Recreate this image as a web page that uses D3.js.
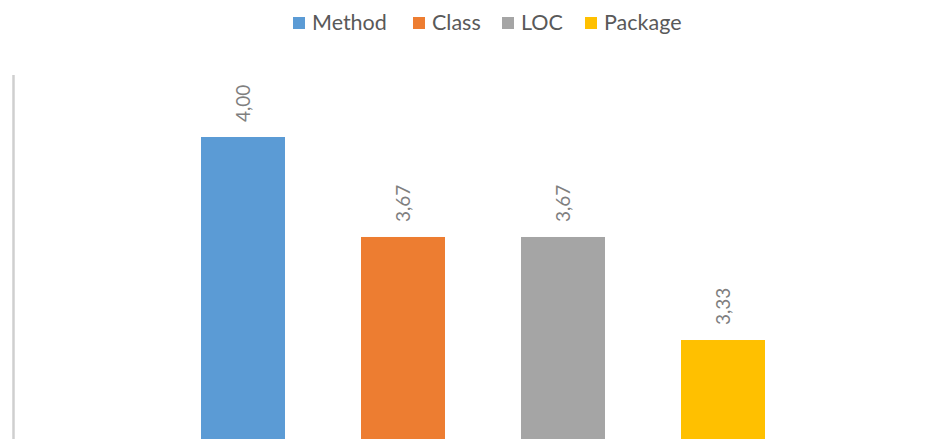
<!DOCTYPE html>
<html><head><meta charset="utf-8">
<script src="https://cdn.jsdelivr.net/npm/d3@7"></script>
<style>html,body{margin:0;padding:0;background:#fff;overflow:hidden}</style>
</head><body>
<svg id="c" width="946" height="439"></svg>
<script>
const categories = ["Method", "Class", "LOC", "Package"];
const values = [4.00, 3.67, 3.67, 3.33];
const labels = ["4,00", "3,67", "3,67", "3,33"];
const colors = ["#5B9BD5", "#ED7D31", "#A5A5A5", "#FFC000"];

const svg = d3.select("#c");
const font = "Lato, 'Open Sans', sans-serif";

const x = d3.scaleBand().domain(categories).range([163, 803]).paddingInner(0.475).paddingOuter(0.2375);
const y = d3.scaleLinear().domain([3, 4.2]).range([440, 76.4]);

// left axis line
svg.append("line").attr("x1", 13.5).attr("x2", 13.5).attr("y1", 75).attr("y2", 439)
  .attr("stroke", "#cfcfcf").attr("stroke-width", 2.5);

svg.selectAll("rect.bar").data(categories).enter().append("rect")
  .attr("class", "bar")
  .attr("x", d => x(d)).attr("width", x.bandwidth())
  .attr("y", (d, i) => y(values[i])).attr("height", (d, i) => y(3) - y(values[i]) + 5)
  .attr("fill", (d, i) => colors[i]);

svg.selectAll("text.lbl").data(categories).enter().append("text")
  .attr("class", "lbl")
  .attr("transform", (d, i) => `translate(${x(d) + x.bandwidth() / 2 + 6.5},${y(values[i]) - 15}) rotate(-90)`)
  .attr("text-anchor", "start")
  .attr("font-family", font).attr("font-size", 19).attr("fill", "#7f7f7f")
  .text((d, i) => labels[i]);

// legend
const legX = [293, 413, 502, 585];
const lg = svg.append("g");
categories.forEach((c, i) => {
  lg.append("rect").attr("x", legX[i]).attr("y", 17).attr("width", 12).attr("height", 12).attr("fill", colors[i]);
  lg.append("text").attr("x", legX[i] + 19).attr("y", 30)
    .attr("font-family", font).attr("font-size", 21.5).attr("fill", "#595959").text(c);
});
</script>
</body></html>
